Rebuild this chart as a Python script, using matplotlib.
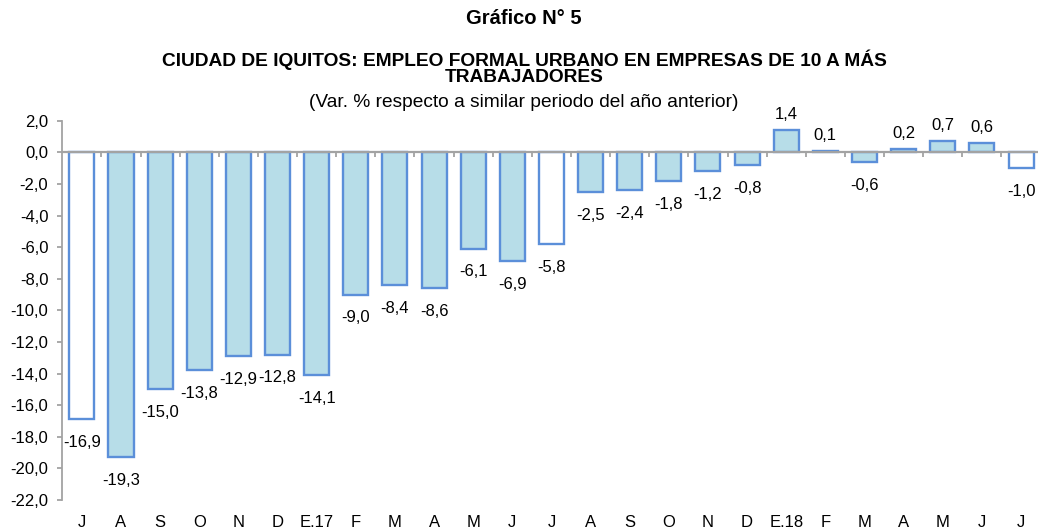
"""Iquitos formal urban employment, year-on-year % change."""

import matplotlib

matplotlib.use("Agg")

import matplotlib.pyplot as plt
import numpy as np

plt.rcParams["font.family"] = ["Liberation Sans", "DejaVu Sans"]

months = ["J", "A", "S", "O", "N", "D", "E.17", "F", "M", "A", "M", "J",
          "J", "A", "S", "O", "N", "D", "E.18", "F", "M", "A", "M", "J", "J"]
values = [-16.9, -19.3, -15.0, -13.8, -12.9, -12.8, -14.1, -9.0, -8.4, -8.6,
          -6.1, -6.9, -5.8, -2.5, -2.4, -1.8, -1.2, -0.8, 1.4, 0.1, -0.6,
          0.2, 0.7, 0.6, -1.0]
highlight = [0, 12, 24]  # July bars drawn hollow
yticks = np.arange(-22, 2.1, 2)

FILL = "#b7dde8"
EDGE = "#5b8fd9"
GREY = "#a3a3a3"
H = 529
XC = 0.505  # titles sit a little right of the figure centre


def fmt(v: float) -> str:
    return f"{v:.1f}".replace(".", ",")


def main() -> None:
    fig = plt.figure(figsize=(10.38, 5.29), dpi=100)
    ax = fig.add_axes([0.06, 1 - 500 / H, 0.9425, (500 - 120.7) / H])

    x = np.arange(len(months))
    colors = ["white" if i in highlight else FILL for i in x]
    ax.bar(x, values, width=0.64, color=colors, edgecolor=EDGE, linewidth=1.7, zorder=2)

    ax.axhline(0, color=GREY, linewidth=1.6, zorder=3)
    ax.vlines(x[:-1] + 0.5, -0.32, 0, color=GREY, linewidth=1.3, zorder=3)

    for xi, v in zip(x, values):
        off = -20 if v < 0 else 8
        ax.annotate(fmt(v), (xi, v), xytext=(0, off), textcoords="offset points",
                    ha="center", va="baseline", fontsize=12)

    ax.set_xlim(-0.5, len(months) - 0.5)
    ax.set_ylim(-22, 2)
    ax.set_yticks(yticks)
    ax.set_yticklabels([fmt(t) for t in yticks], fontsize=12)
    ax.set_xticks(x)
    ax.set_xticklabels(months, fontsize=12)
    ax.tick_params(axis="x", length=0, pad=10.5)
    ax.tick_params(axis="y", length=3.6, color=GREY, width=1.3, pad=6.5)

    for side in ("top", "right", "bottom"):
        ax.spines[side].set_visible(False)
    ax.spines["left"].set_color(GREY)
    ax.spines["left"].set_linewidth(1.3)

    fig.text(XC, 1 - 18 / H, "Gráfico N° 5", ha="center", va="center",
             fontsize=14.5, fontweight="bold")
    fig.text(XC, 1 - 60 / H,
             "CIUDAD DE IQUITOS: EMPLEO FORMAL URBANO EN EMPRESAS DE 10 A MÁS",
             ha="center", va="center", fontsize=13.8, fontweight="bold")
    fig.text(XC, 1 - 77 / H, "TRABAJADORES",
             ha="center", va="center", fontsize=13.8, fontweight="bold")
    fig.text(XC, 1 - 102 / H,
             "(Var. % respecto a similar periodo del año anterior)",
             ha="center", va="center", fontsize=13.8)

    fig.savefig("out.png", dpi=100)
    plt.close(fig)


if __name__ == "__main__":
    main()
